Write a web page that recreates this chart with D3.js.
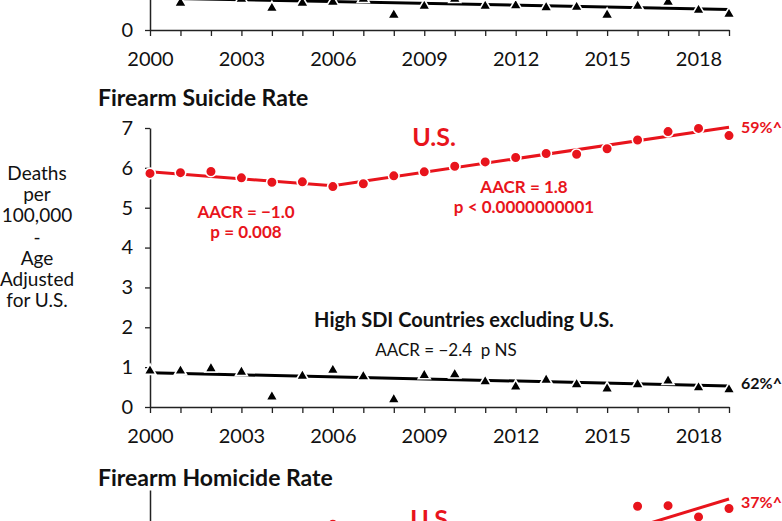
<!DOCTYPE html>
<html><head><meta charset="utf-8">
<script src="https://cdn.jsdelivr.net/npm/d3@7"></script>
<style>
body{margin:0;background:#fff;overflow:hidden}
svg{display:block}
text{font-family:Lato,"Open Sans",sans-serif;white-space:pre}
</style>
</head><body>
<svg id="chart" width="782" height="521"></svg>
<script>
// ---------- data ----------
const years = [2000,2001,2002,2003,2004,2005,2006,2007,2008,2009,2010,2011,2012,2013,2014,2015,2016,2017,2018,2019];
const xTickLabels = [2000,2003,2006,2009,2012,2015,2018];

// top panel (only the bottom edge is visible): High SDI excluding U.S.
const topOtherValues = [1.95,1.40,1.95,1.60,1.14,1.40,1.45,1.60,0.80,1.24,1.60,1.24,1.27,1.17,1.19,0.80,1.24,1.45,1.04,0.84];
const topOtherTrendYears = [2000, 2019];
const topOtherTrendValues = [1.60, 1.03];
const topYTicks = [0];

// Firearm Suicide Rate
const suicideYTicks = [0,1,2,3,4,5,6,7];
const suicideUS = [5.86,5.88,5.91,5.75,5.64,5.65,5.53,5.60,5.80,5.90,6.04,6.15,6.26,6.36,6.34,6.48,6.70,6.91,6.99,6.81];
const suicideUSTrendYears = [2000, 2006, 2019];
const suicideUSTrendValues = [5.90, 5.55, 7.02];
const suicideOther = [0.93,0.93,0.99,0.90,0.28,0.80,0.95,0.79,0.21,0.82,0.84,0.66,0.53,0.70,0.59,0.48,0.59,0.68,0.51,0.46];
const suicideOtherTrendYears = [2000, 2019];
const suicideOtherTrendValues = [0.86, 0.53];

// Firearm Homicide Rate (only the top edge is visible)
const homicideUSYears = [2006, 2016, 2017, 2018, 2019];
const homicideUS = [4.39, 4.71, 4.72, 4.52, 4.67];
const homicideUSTrendYears = [2014, 2019];
const homicideUSTrendValues = [4.01, 4.84];
const homicideYTicks = [];

// ---------- drawing ----------
const RED = "#e8141c";
const BLACK = "#000";
const svg = d3.select("#chart");
const x = d3.scaleLinear().domain([2000, 2019]).range([150, 729]);

const yTop = d3.scaleLinear().domain([0, 14]).range([30, -250]);
const ySui = d3.scaleLinear().domain([0, 7]).range([407, 128]);
const yHom = d3.scaleLinear().domain([0, 5]).range([770, 490]);

function xAxis(yScale) {
  const g = svg.append("g").attr("transform", `translate(0,${yScale(0)})`)
    .call(d3.axisBottom(x).tickValues(years).tickSize(6).tickSizeOuter(0)
      .tickFormat(d => xTickLabels.includes(d) ? d : ""));
  g.select(".domain").attr("stroke", "#222").attr("stroke-width", 1.5);
  g.selectAll(".tick line").attr("stroke", "#222").attr("stroke-width", 1.3);
  g.selectAll(".tick text").attr("y", 36).attr("dy", null)
    .attr("font-size", 20).attr("fill", "#111").attr("font-family", "Lato");
}
function yAxis(yScale, ticks) {
  const g = svg.append("g").attr("transform", `translate(150,0)`)
    .call(d3.axisLeft(yScale).tickValues(ticks).tickSize(5).tickSizeOuter(0)
      .tickFormat(d3.format("d")));
  g.select(".domain").attr("stroke", "#222").attr("stroke-width", 1.5);
  g.selectAll(".tick line").attr("stroke", "#222").attr("stroke-width", 1.3);
  g.selectAll(".tick text").attr("x", -17).attr("font-size", 20)
    .attr("fill", "#111").attr("font-family", "Lato");
}
function trend(yScale, ty, tv, color) {
  svg.append("path")
    .datum(ty.map((d, i) => [d, tv[i]]))
    .attr("fill", "none").attr("stroke", color).attr("stroke-width", 3)
    .attr("d", d3.line().x(d => x(d[0])).y(d => yScale(d[1])));
}
function triangles(yScale, ys, vs) {
  svg.append("g").selectAll("path").data(ys.map((d, i) => [d, vs[i]])).join("path")
    .attr("transform", d => `translate(${x(d[0])},${yScale(d[1]) + 1})`)
    .attr("d", d3.symbol().type(d3.symbolTriangle).size(62))
    .attr("fill", BLACK).attr("stroke", "#fff").attr("stroke-width", 1.6);
}
function dots(yScale, ys, vs) {
  svg.append("g").selectAll("circle").data(ys.map((d, i) => [d, vs[i]])).join("circle")
    .attr("cx", d => x(d[0])).attr("cy", d => yScale(d[1])).attr("r", 5.3)
    .attr("fill", RED).attr("stroke", "#fff").attr("stroke-width", 1.6);
}
function label(txt, px, py, opts = {}) {
  svg.append("text").attr("x", px).attr("y", py).text(txt)
    .attr("font-size", opts.size || 16)
    .attr("font-weight", opts.bold ? 700 : 400)
    .attr("fill", opts.color || "#111")
    .attr("text-anchor", opts.anchor || "start");
}

// top panel
yAxis(yTop, topYTicks);
xAxis(yTop);
trend(yTop, topOtherTrendYears, topOtherTrendValues, BLACK);
triangles(yTop, years, topOtherValues);

// suicide panel
label("Firearm Suicide Rate", 98, 106, {size: 23, bold: true});
yAxis(ySui, suicideYTicks);
xAxis(ySui);
trend(ySui, suicideOtherTrendYears, suicideOtherTrendValues, BLACK);
triangles(ySui, years, suicideOther);
trend(ySui, suicideUSTrendYears, suicideUSTrendValues, RED);
dots(ySui, years, suicideUS);

label("U.S.", 434, 146, {size: 25, bold: true, color: RED, anchor: "middle"});
label("AACR = \u22121.0", 246, 218, {size: 17, bold: true, color: RED, anchor: "middle"});
label("p = 0.008", 246, 238, {size: 17, bold: true, color: RED, anchor: "middle"});
label("AACR = 1.8", 524, 193, {size: 17, bold: true, color: RED, anchor: "middle"});
label("p < 0.0000000001", 524, 213, {size: 17, bold: true, color: RED, anchor: "middle"});
label("59%^", 741, 133, {size: 16, bold: true, color: RED});
label("High SDI Countries excluding U.S.", 464, 327, {size: 20, bold: true, anchor: "middle"});
label("AACR = \u22122.4\u00a0\u00a0p NS", 446, 356, {size: 17, anchor: "middle"});
label("62%^", 741, 389, {size: 16, bold: true});

// y-axis title
const yTitle = ["Deaths", "per", "100,000", "-", "Age", "Adjusted", "for U.S."];
yTitle.forEach((t, i) => label(t, 37, 180 + i * 21.2, {size: 19, anchor: "middle"}));

// homicide panel
label("Firearm Homicide Rate", 98, 486, {size: 23, bold: true});
yAxis(yHom, homicideYTicks);
trend(yHom, homicideUSTrendYears, homicideUSTrendValues, RED);
dots(yHom, homicideUSYears, homicideUS);
label("U.S.", 432, 528, {size: 25, bold: true, color: RED, anchor: "middle"});
label("37%^", 741, 508, {size: 16, bold: true, color: RED});
</script>
</body></html>
